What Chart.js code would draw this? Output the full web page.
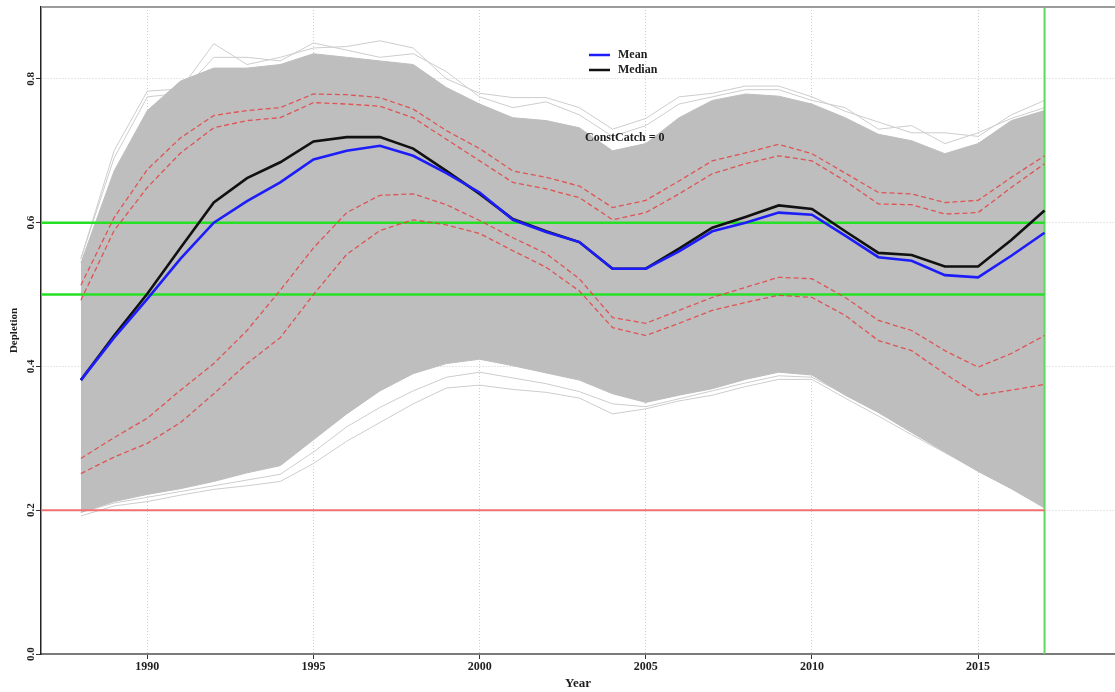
<!DOCTYPE html>
<html>
<head>
<meta charset="utf-8">
<title>Depletion</title>
<script src="https://cdn.jsdelivr.net/npm/chart.js@4/dist/chart.umd.min.js"></script>
<style>
  html, body { margin: 0; padding: 0; background: #fff; }
</style>
</head>
<body>
<canvas id="chart" width="1115" height="692"></canvas>
<script>
/* ── data ── */
const YEARS = [1988,1989,1990,1991,1992,1993,1994,1995,1996,1997,1998,1999,2000,2001,2002,
               2003,2004,2005,2006,2007,2008,2009,2010,2011,2012,2013,2014,2015,2016,2017];

const MEAN   = [0.381,0.440,0.494,0.550,0.600,0.630,0.656,0.688,0.700,0.707,0.693,0.669,0.642,0.604,0.587,
                0.573,0.536,0.536,0.560,0.588,0.600,0.614,0.611,0.582,0.552,0.547,0.527,0.524,0.554,0.586];
const MEDIAN = [0.381,0.443,0.501,0.565,0.628,0.662,0.684,0.713,0.719,0.719,0.703,0.672,0.640,0.605,0.588,
                0.573,0.536,0.536,0.564,0.593,0.608,0.624,0.619,0.588,0.558,0.555,0.539,0.539,0.576,0.617];

// dashed quantile lines (two above, two below)
const Q_HI_1 = [0.513,0.607,0.674,0.718,0.749,0.756,0.760,0.779,0.778,0.774,0.758,0.728,0.703,0.672,0.663,
                0.651,0.621,0.631,0.658,0.686,0.697,0.709,0.696,0.669,0.642,0.640,0.628,0.631,0.663,0.693];
const Q_HI_2 = [0.492,0.589,0.649,0.697,0.732,0.742,0.746,0.767,0.765,0.762,0.746,0.716,0.686,0.656,0.647,
                0.635,0.604,0.614,0.640,0.668,0.682,0.693,0.686,0.658,0.626,0.625,0.612,0.614,0.649,0.682];
const Q_LO_1 = [0.272,0.301,0.328,0.367,0.404,0.450,0.506,0.565,0.614,0.638,0.640,0.625,0.603,0.579,0.557,
                0.522,0.468,0.460,0.478,0.496,0.510,0.524,0.522,0.496,0.464,0.450,0.422,0.399,0.418,0.443];
const Q_LO_2 = [0.251,0.274,0.293,0.322,0.362,0.404,0.440,0.500,0.556,0.589,0.604,0.597,0.585,0.561,0.538,
                0.505,0.454,0.443,0.460,0.478,0.489,0.499,0.496,0.471,0.436,0.422,0.390,0.360,0.367,0.375];

// envelope of the simulated trajectories
const BAND_TOP = [0.544,0.672,0.756,0.797,0.815,0.815,0.820,0.835,0.830,0.825,0.820,0.788,0.765,0.746,0.742,
                  0.732,0.700,0.710,0.746,0.770,0.779,0.776,0.765,0.746,0.723,0.714,0.696,0.710,0.742,0.756];
const BAND_BOT = [0.197,0.212,0.222,0.230,0.240,0.252,0.262,0.298,0.334,0.366,0.390,0.404,0.410,0.401,0.391,
                  0.381,0.362,0.350,0.360,0.369,0.382,0.392,0.388,0.360,0.336,0.308,0.281,0.254,0.230,0.203];

// a few stray trajectories outside the dense band
const STRAY_HI_1 = [0.550,0.700,0.783,0.786,0.849,0.820,0.830,0.843,0.845,0.853,0.843,0.800,0.780,0.774,0.774,
                    0.760,0.730,0.745,0.775,0.780,0.790,0.790,0.775,0.755,0.740,0.725,0.725,0.720,0.750,0.770];
const STRAY_HI_2 = [0.550,0.690,0.775,0.780,0.830,0.830,0.825,0.850,0.840,0.830,0.835,0.810,0.775,0.760,0.768,
                    0.750,0.720,0.735,0.765,0.775,0.785,0.785,0.770,0.760,0.730,0.735,0.710,0.725,0.745,0.760];
const STRAY_LO_1 = [0.192,0.206,0.212,0.221,0.229,0.234,0.240,0.265,0.296,0.322,0.348,0.370,0.374,0.368,0.364,
                    0.356,0.334,0.341,0.352,0.360,0.372,0.382,0.382,0.356,0.331,0.305,0.280,0.255,0.230,0.205];
const STRAY_LO_2 = [0.197,0.210,0.218,0.226,0.234,0.242,0.250,0.281,0.316,0.343,0.366,0.385,0.392,0.384,0.376,
                    0.365,0.348,0.344,0.355,0.366,0.377,0.387,0.385,0.361,0.336,0.310,0.284,0.260,0.238,0.208];

const LIMIT_HI = 0.6, LIMIT_MID = 0.5, LIMIT_LO = 0.2;
const LAST_YEAR = 2017;
const X_MIN = 1986.8, X_MAX = 2019.12;
const Y_MIN = 0, Y_MAX = 0.9;

const SERIF = "'Liberation Serif', 'Times New Roman', serif";
const TXT = '#1e1e1e';

const toXY = arr => YEARS.map((yr, i) => ({ x: yr, y: arr[i] }));
const hline = v => [{ x: X_MIN, y: v }, { x: LAST_YEAR, y: v }];

const dashed = (data) => ({
  data, borderColor: 'rgba(226,70,70,0.88)', borderWidth: 1.3, borderDash: [5, 3], order: 2
});
const stray = (data) => ({ data, borderColor: '#cdcdcd', borderWidth: 1, order: 7 });

/* ── legend + frame + label drawn over the plot ── */
const overlay = {
  id: 'overlay',
  afterDraw(chart) {
    const { ctx, chartArea: a } = chart;
    ctx.save();
    // top edge of the box
    ctx.strokeStyle = '#9c9c9c';
    ctx.lineWidth = 2;
    ctx.beginPath(); ctx.moveTo(a.left, a.top); ctx.lineTo(a.right, a.top); ctx.stroke();

    ctx.font = `bold 12px ${SERIF}`;
    ctx.textBaseline = 'middle';
    ctx.textAlign = 'left';
    const lx = a.left + 548, ly = a.top + 48;
    [chart.data.datasets[0], chart.data.datasets[1]].forEach((ds, i) => {
      const y = ly + i * 15;
      ctx.strokeStyle = ds.borderColor;
      ctx.lineWidth = 2.5;
      ctx.beginPath(); ctx.moveTo(lx, y); ctx.lineTo(lx + 21, y); ctx.stroke();
      ctx.fillStyle = TXT;
      ctx.fillText(ds.label, lx + 29, y);
    });

    ctx.fillStyle = TXT;
    ctx.fillText('ConstCatch = 0', a.left + 544, a.top + 131);
    ctx.restore();
  }
};

new Chart(document.getElementById('chart'), {
  type: 'line',
  data: {
    datasets: [
      { label: 'Mean',   data: toXY(MEAN),   borderColor: '#1d1dfa', borderWidth: 2.6, order: 0 },
      { label: 'Median', data: toXY(MEDIAN), borderColor: '#111111', borderWidth: 2.6, order: 1 },
      dashed(toXY(Q_HI_1)),
      dashed(toXY(Q_HI_2)),
      dashed(toXY(Q_LO_1)),
      dashed(toXY(Q_LO_2)),
      { data: hline(LIMIT_HI),  borderColor: '#26e026', borderWidth: 2.5, order: 3 },
      { data: hline(LIMIT_MID), borderColor: '#26e026', borderWidth: 2.5, order: 3 },
      { data: hline(LIMIT_LO),  borderColor: '#f07070', borderWidth: 2, order: 3 },
      { data: [{ x: LAST_YEAR, y: Y_MIN }, { x: LAST_YEAR, y: Y_MAX }],
        borderColor: '#5fd85f', borderWidth: 2, order: 3 },
      { data: toXY(BAND_TOP), borderColor: '#bebebe', borderWidth: 1,
        backgroundColor: '#bebebe', fill: '+1', order: 5 },
      { data: toXY(BAND_BOT), borderColor: '#bebebe', borderWidth: 1, order: 5 },
      stray(toXY(STRAY_HI_1)),
      stray(toXY(STRAY_HI_2)),
      stray(toXY(STRAY_LO_1)),
      stray(toXY(STRAY_LO_2)),
    ]
  },
  options: {
    responsive: false,
    animation: false,
    devicePixelRatio: 1,
    layout: { padding: { left: 0, right: 0, top: 7, bottom: 0 } },
    elements: { point: { radius: 0, hoverRadius: 0 }, line: { tension: 0 } },
    plugins: { legend: { display: false }, tooltip: { enabled: false } },
    scales: {
      x: {
        type: 'linear', min: X_MIN, max: X_MAX,
        ticks: {
          stepSize: 5, includeBounds: false, maxRotation: 0, padding: 1,
          callback: v => String(v),
          font: { family: SERIF, weight: 'bold', size: 12 }, color: TXT
        },
        grid: { color: '#cfcfcf', tickColor: '#333', tickLength: 5, lineWidth: 1 },
        border: { color: '#7a7a7a', width: 2, dash: [1, 2] },
        title: { display: true, text: 'Year', color: TXT,
                 font: { family: SERIF, weight: 'bold', size: 13 }, padding: { top: 0, bottom: 1 } },
        afterFit: s => { s.height = 38; }
      },
      y: {
        min: Y_MIN, max: Y_MAX,
        ticks: {
          stepSize: 0.2, includeBounds: false, minRotation: 90, maxRotation: 90,
          crossAlign: 'center', padding: -2,
          callback: v => v.toFixed(1),
          font: { family: SERIF, weight: 'bold', size: 11 }, color: TXT
        },
        grid: { color: '#cfcfcf', tickColor: '#333', tickLength: 5, lineWidth: 1 },
        border: { color: '#222', width: 1.5, dash: [1, 2] },
        title: { display: true, text: 'Depletion', color: TXT,
                 font: { family: SERIF, weight: 'bold', size: 11 }, padding: { top: 8, bottom: 0 } },
        afterFit: s => { s.width = 41; }
      }
    }
  },
  plugins: [overlay]
});
</script>
</body>
</html>
